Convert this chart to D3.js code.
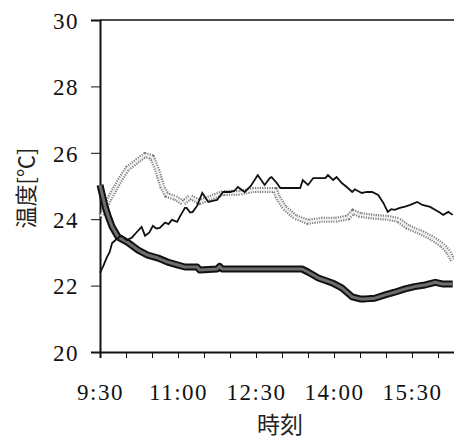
<!DOCTYPE html>
<html>
<head>
<meta charset="utf-8">
<script src="https://cdn.jsdelivr.net/npm/d3@7"></script>
<style>
  body { margin: 0; background: #fff; }
  svg { display: block; }
</style>
</head>
<body>
<div id="chart"></div>
<script>
// series A: thin black line
const timesA = ['9:30','9:34','9:38','9:41','9:44','9:47','9:50','9:55','10:01','10:07','10:12','10:18','10:22','10:27','10:31','10:35','10:39','10:45','10:49','10:53','10:59','11:02','11:08','11:10','11:14','11:17','11:22','11:28','11:35','11:40','11:45','11:52','12:00','12:05','12:09','12:17','12:24','12:32','12:40','12:46','12:48','12:54','12:58','13:21','13:24','13:30','13:36','13:50','13:53','13:59','14:03','14:09','14:16','14:21','14:24','14:32','14:38','14:44','14:51','14:57','15:02','15:06','15:10','15:16','15:22','15:28','15:36','15:42','15:51','15:57','16:02','16:06','16:12','16:17'];
const valuesA = [22.38,22.6,22.86,23.0,23.28,23.35,23.43,23.5,23.37,23.45,23.6,23.77,23.5,23.6,23.8,23.72,23.74,23.9,23.85,23.98,23.92,24.07,24.34,24.34,24.2,24.22,24.4,24.79,24.52,24.55,24.58,24.82,24.82,24.85,24.97,24.82,25.0,25.33,25.03,25.24,25.27,25.09,24.94,24.94,25.18,25.03,25.24,25.24,25.33,25.18,25.27,25.09,24.94,24.82,24.9,24.79,24.82,24.82,24.73,24.49,24.22,24.3,24.28,24.34,24.38,24.43,24.52,24.43,24.37,24.28,24.2,24.13,24.22,24.13];

// series B: grey dotted band
const timesB = ['9:30','9:32','9:37','9:42','9:48','9:53','10:02','10:08','10:14','10:22','10:30','10:36','10:42','10:47','10:57','11:06','11:14','11:25','11:40','11:52','12:12','12:27','12:43','12:52','12:55','13:03','13:15','13:30','13:46','14:01','14:16','14:22','14:30','14:47','15:02','15:14','15:25','15:42','15:53','16:05','16:12','16:17'];
const valuesB = [24.1,24.13,24.4,24.67,24.95,25.18,25.54,25.65,25.78,25.93,25.87,25.48,24.97,24.73,24.64,24.49,24.67,24.52,24.67,24.79,24.8,24.88,24.88,24.88,24.67,24.34,24.07,23.92,23.98,23.98,24.05,24.22,24.13,24.07,24.04,23.98,23.77,23.58,23.43,23.22,23.01,22.77];

// series C: thick outlined line
const timesC = ['9:30','9:33','9:36','9:40','9:44','9:51','10:02','10:14','10:25','10:37','10:48','11:00','11:08','11:22','11:25','11:45','11:48','11:51','12:00','12:40','13:23','13:30','13:42','13:58','14:09','14:21','14:30','14:36','14:47','14:59','15:10','15:22','15:33','15:45','15:57','16:05','16:17'];
const valuesC = [25.03,24.7,24.37,24.05,23.77,23.46,23.3,23.07,22.92,22.83,22.71,22.62,22.56,22.56,22.47,22.5,22.58,22.5,22.5,22.5,22.5,22.41,22.23,22.08,21.93,21.66,21.6,21.6,21.62,21.72,21.8,21.9,21.97,22.02,22.1,22.05,22.05];

const yTicks = [20, 22, 24, 26, 28, 30];
const xTickLabels = ['9:30', '11:00', '12:30', '14:00', '15:30'];

const width = 454;
const height = 440;
const margin = { top: 20, left: 100, bottom: 88 };
const serif = "'Liberation Serif', 'DejaVu Serif', serif";
const cjk = "'Noto Sans CJK JP', sans-serif";

const parse = d3.timeParse('%H:%M');
const fmt = d3.timeFormat('%-H:%M');

const svg = d3.select('#chart').append('svg').attr('width', width).attr('height', height);

const x = d3.scaleTime()
	.domain([parse('9:30'), parse('16:30')])
	.range([margin.left, margin.left + 14 * 26]);
const y = d3.scaleLinear()
	.domain([20, 30])
	.range([height - margin.bottom, margin.top]);

const line = d3.line()
	.x((d) => x(d.t))
	.y((d) => y(d.v));

const toPoints = (ts, vs) => ts.map((t, i) => ({ t: parse(t), v: vs[i] }));

// frame top line
svg.append('line')
	.attr('x1', margin.left).attr('x2', width)
	.attr('y1', y(30)).attr('y2', y(30))
	.attr('stroke', '#111').attr('stroke-width', 1.6);

function styleNum(sel) {
	sel.style('font-family', serif).style('font-size', '23px').style('letter-spacing', '1.5px').attr('fill', '#111');
}

// y axis
const yAxis = d3.axisLeft(y).tickValues(yTicks).tickSize(9).tickPadding(12).tickFormat(d3.format('d'));
const gy = svg.append('g').attr('transform', `translate(${margin.left},0)`).call(yAxis);
gy.select('.domain').attr('stroke', '#111').attr('stroke-width', 2);
gy.selectAll('.tick line').attr('stroke', '#111').attr('stroke-width', 1);
gy.selectAll('.tick text').attr('dy', '0.36em').call(styleNum);

// x axis, minor ticks every 30 minutes
const xTickVals = d3.timeMinute.every(30).range(parse('9:30'), parse('16:31'));
const xAxis = d3.axisBottom(x).tickValues(xTickVals).tickSize(6).tickPadding(26)
	.tickFormat((d) => (xTickLabels.includes(fmt(d)) ? fmt(d) : ''));
const gx = svg.append('g').attr('transform', `translate(0,${y(20)})`).call(xAxis);
gx.select('.domain').attr('stroke', '#111').attr('stroke-width', 2);
gx.selectAll('.tick line').attr('stroke', '#111').attr('stroke-width', 1);
gx.selectAll('.tick text').attr('dy', '0.71em').call(styleNum);

// series B: dotted grey band (dashed outline, pale core)
const ptsB = toPoints(timesB, valuesB);
svg.append('path')
	.datum(ptsB)
	.attr('d', line)
	.attr('fill', 'none')
	.attr('stroke', '#7a7a7a')
	.attr('stroke-width', 6)
	.attr('stroke-dasharray', '1.2,1.2');
svg.append('path')
	.datum(ptsB)
	.attr('d', line)
	.attr('fill', 'none')
	.attr('stroke', '#eeeeee')
	.attr('stroke-width', 2);

// series C: black outline with grey core
const ptsC = toPoints(timesC, valuesC);
svg.append('path')
	.datum(ptsC)
	.attr('d', line)
	.attr('fill', 'none')
	.attr('stroke', '#111')
	.attr('stroke-width', 7)
	.attr('stroke-linejoin', 'round');
svg.append('path')
	.datum(ptsC)
	.attr('d', line)
	.attr('fill', 'none')
	.attr('stroke', '#6e6e6e')
	.attr('stroke-width', 3)
	.attr('stroke-linejoin', 'round');

// series A: thin black
svg.append('path')
	.datum(toPoints(timesA, valuesA))
	.attr('d', line)
	.attr('fill', 'none')
	.attr('stroke', '#111')
	.attr('stroke-width', 1.8);

// axis titles
svg.append('text')
	.attr('transform', `translate(34,${y(25) + 2}) rotate(-90)`)
	.attr('text-anchor', 'middle')
	.style('font-family', cjk).style('font-size', '22px')
	.attr('fill', '#222')
	.text('温度[℃]');

svg.append('text')
	.attr('x', 280)
	.attr('y', 433)
	.attr('text-anchor', 'middle')
	.style('font-family', cjk).style('font-size', '23px')
	.attr('fill', '#222')
	.text('時刻');
</script>
</body>
</html>
